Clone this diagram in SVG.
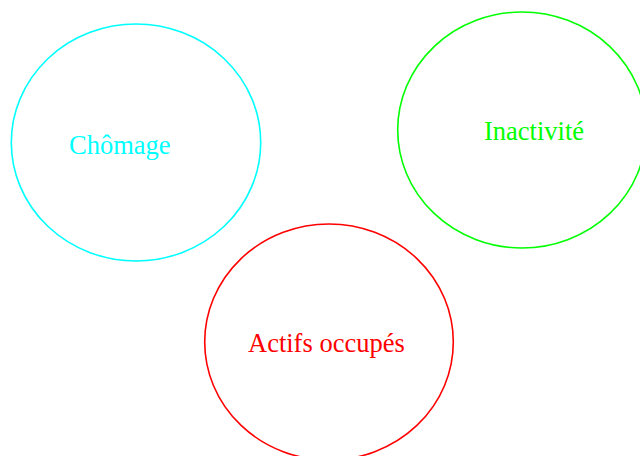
<svg xmlns="http://www.w3.org/2000/svg" width="640" height="456" viewBox="0 0 640 456">
<style>
.n{fill:none;stroke-width:1.6}
.t{font-family:"Liberation Serif","Times New Roman",serif;font-size:26.5px}
</style>
<rect width="640" height="456" fill="#ffffff"/>
<g id="chomage">
<ellipse class="n" cx="136" cy="142.5" rx="124.7" ry="118.5" stroke="#00ffff"/>
<text class="t" x="69" y="153.5" fill="#00ffff">Chômage</text>
</g>
<g id="inactivite">
<ellipse class="n" cx="522" cy="130" rx="124.3" ry="118" stroke="#00ff00"/>
<text class="t" x="484" y="140" fill="#00ff00">Inactivité</text>
</g>
<g id="actifs">
<ellipse class="n" cx="329" cy="342" rx="124.3" ry="118" stroke="#ff0000"/>
<text class="t" x="248" y="352" fill="#ff0000">Actifs occupés</text>
</g>
<g id="connectors"></g>
</svg>
